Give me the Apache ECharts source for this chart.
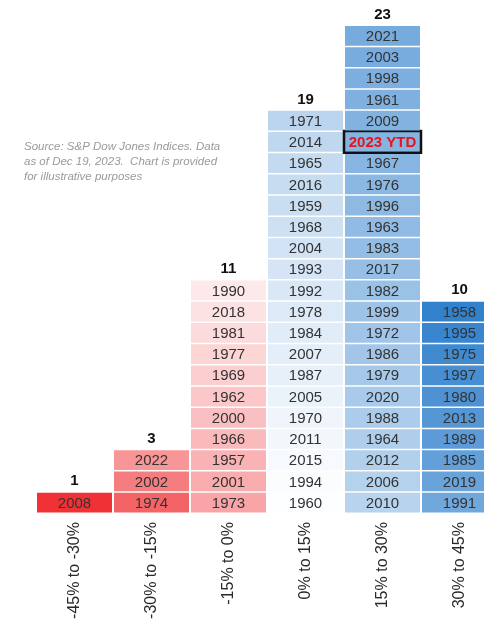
<!DOCTYPE html>
<html>
<head>
<meta charset="utf-8">
<script src="https://cdn.jsdelivr.net/npm/echarts@6/dist/echarts.min.js"></script>
<style>
    html, body { margin: 0; padding: 0; background: #fff; }
    #chart { width: 484px; height: 621px; }
</style>
</head>
<body>
<div id="chart"></div>
<script>
// return buckets (x axis)
var categories = ['-45% to -30%', '-30% to -15%', '-15% to 0%', '0% to 15%', '15% to 30%', '30% to 45%'];
// number of years in each bucket
var counts = [1, 3, 11, 19, 23, 10];
// years in each bucket, bottom to top
var years = [
    ['2008'],
    ['1974', '2002', '2022'],
    ['1973', '2001', '1957', '1966', '2000', '1962', '1969', '1977', '1981', '2018', '1990'],
    ['1960', '1994', '2015', '2011', '1970', '2005', '1987', '2007', '1984', '1978', '1992', '1993', '2004', '1968', '1959', '2016', '1965', '2014', '1971'],
    ['2010', '2006', '2012', '1964', '1988', '2020', '1979', '1986', '1972', '1999', '1982', '2017', '1983', '1963', '1996', '1976', '1967', '2023 YTD', '2009', '1961', '1998', '2003', '2021'],
    ['1991', '2019', '1985', '1989', '2013', '1980', '1997', '1975', '1995', '1958']
];
var highlightYear = '2023 YTD';
var sourceNote = 'Source: S&P Dow Jones Indices. Data\nas of Dec 19, 2023.  Chart is provided\nfor illustrative purposes';

var FONT = '"Liberation Sans", Arial, sans-serif';

// shade from red (low buckets) through white to blue (high buckets)
function cellColor(col, row, n) {
    var s = (col + (row + 0.5) / n - 3) / 3;
    var end, t;
    if (s < 0) {
        end = [238, 20, 24];
        t = Math.min(1, 0.08 + 0.95 * -s);
    } else {
        end = [47, 127, 204];
        t = Math.min(1, s);
    }
    var c = end.map(function (v) { return Math.round(255 + (v - 255) * t); });
    return 'rgb(' + c.join(',') + ')';
}

var cells = [];
years.forEach(function (list, col) {
    list.forEach(function (y, row) {
        cells.push({ value: [col, row], name: y });
    });
});

function renderCell(params, api) {
    var col = api.value(0), row = api.value(1);
    var item = cells[params.dataIndex];
    var bottom = api.coord([col, row]);
    var top = api.coord([col, row + 1]);
    var w = api.size([1, 0])[0] - 2;
    var x = bottom[0] - w / 2;
    var y = top[1] + 1;
    var h = bottom[1] - top[1] - 1.5;
    var isHi = item.name === highlightYear;
    var children = [{
        type: 'rect',
        shape: { x: x, y: y, width: w, height: h },
        style: { fill: cellColor(col, row, years[col].length) }
    }];
    if (isHi) {
        children.push({
            type: 'rect',
            shape: { x: x - 1, y: y - 1, width: w + 2, height: h + 2 },
            style: { fill: 'none', stroke: '#111', lineWidth: 2.5 }
        });
    }
    children.push({
        type: 'text',
        style: {
            text: item.name,
            x: bottom[0],
            y: y + h / 2 + 1,
            align: 'center',
            verticalAlign: 'middle',
            fill: isHi ? '#e8141c' : '#333',
            font: (isHi ? 'bold ' : '') + '15px ' + FONT
        }
    });
    return { type: 'group', children: children };
}

var chart = echarts.init(document.getElementById('chart'));
chart.setOption({
    animation: false,
    grid: { left: 36, top: 25, width: 462, height: 488, outerBoundsMode: 'none' },
    xAxis: {
        type: 'category',
        data: categories,
        axisLine: { show: false },
        axisTick: { show: false },
        axisLabel: { rotate: 90, margin: 9, fontSize: 16, color: '#2a2a2a', fontFamily: FONT, interval: 0 }
    },
    yAxis: { type: 'value', min: 0, max: 23, show: false },
    graphic: [{
        type: 'text',
        left: 24,
        top: 139,
        style: { text: sourceNote, font: 'italic 11.5px ' + FONT, fill: '#9a9a9a', lineHeight: 15 }
    }],
    series: [
        {
            type: 'bar',
            data: counts,
            barWidth: 75,
            silent: true,
            itemStyle: { color: 'rgba(0,0,0,0)' },
            label: { show: true, position: 'top', distance: 3, fontSize: 15, fontWeight: 'bold', color: '#111', fontFamily: FONT }
        },
        {
            type: 'custom',
            data: cells,
            renderItem: renderCell,
            clip: false,
            silent: true
        }
    ]
});
</script>
</body>
</html>
